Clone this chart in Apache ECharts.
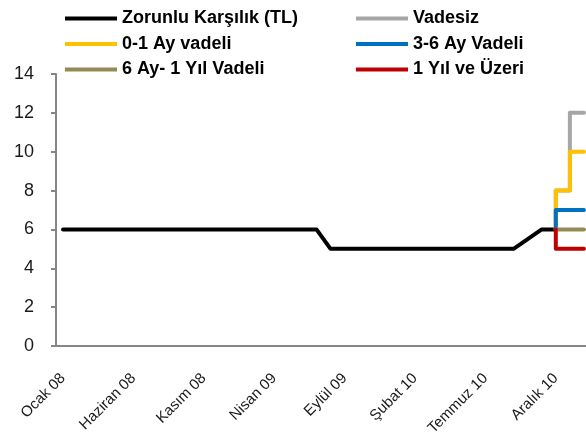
<!DOCTYPE html>
<html>
<head>
<meta charset="utf-8">
<script src="https://cdn.jsdelivr.net/npm/echarts@6/dist/echarts.min.js"></script>
<style>
  html, body { margin: 0; padding: 0; background: #fff; }
  #chart { width: 586px; height: 439px; }
</style>
</head>
<body>
<div id="chart"></div>
<script>
// months on the category axis, Ocak 08 .. Şubat 11
const categories = [
  'Ocak 08', 'Şubat 08', 'Mart 08', 'Nisan 08', 'Mayıs 08', 'Haziran 08', 'Temmuz 08', 'Ağustos 08', 'Eylül 08', 'Ekim 08', 'Kasım 08', 'Aralık 08',
  'Ocak 09', 'Şubat 09', 'Mart 09', 'Nisan 09', 'Mayıs 09', 'Haziran 09', 'Temmuz 09', 'Ağustos 09', 'Eylül 09', 'Ekim 09', 'Kasım 09', 'Aralık 09',
  'Ocak 10', 'Şubat 10', 'Mart 10', 'Nisan 10', 'Mayıs 10', 'Haziran 10', 'Temmuz 10', 'Ağustos 10', 'Eylül 10', 'Ekim 10', 'Kasım 10', 'Aralık 10',
  'Ocak 11', 'Şubat 11'
];

// Zorunlu Karşılık (TL), Ocak 08 .. Aralık 10
const zorunlu = [
  6, 6, 6, 6, 6, 6, 6, 6, 6, 6, 6, 6,
  6, 6, 6, 6, 6, 6, 6, 5, 5, 5, 5, 5,
  5, 5, 5, 5, 5, 5, 5, 5, 5, 5.5, 6, 6
];

// maturity based ratios: change months and the level from each of them on
const stepMonths = ['Aralık 10', 'Ocak 11'];
const lastMonth = 'Şubat 11';
const vadesiz = [8, 12];
const vade01 = [8, 10];
const vade36 = [7, 7];
const vade6_12 = [6, 6];
const vade12plus = [5, 5];

const yTicks = { min: 0, max: 14, interval: 2 };

function stepData(values) {
  // start from the TL ratio in the first change month, then hold each level
  const first = categories.indexOf(stepMonths[0]);
  const pts = [[first, zorunlu[first]]];
  stepMonths.forEach((m, i) => {
    const x = categories.indexOf(m);
    const next = i + 1 < stepMonths.length ? categories.indexOf(stepMonths[i + 1]) : categories.indexOf(lastMonth);
    pts.push([x, values[i]]);
    pts.push([next, values[i]]);
  });
  return pts;
}

const font = 'Liberation Sans';
const axisColor = '#868686';

function line(name, color, data, xAxisIndex) {
  return {
    name, type: 'line', data, xAxisIndex,
    symbol: 'none',
    lineStyle: { color, width: 4, cap: 'round', join: 'round' },
    itemStyle: { color },
    z: 2
  };
}

const legendText = { fontFamily: font, fontSize: 18, fontWeight: 'bold', color: '#000', lineHeight: 18 };

const chart = echarts.init(document.getElementById('chart'));
chart.setOption({
  animation: false,
  backgroundColor: '#fff',
  legend: [
    {
      orient: 'vertical', left: 65, top: 9.5, padding: 0,
      icon: 'rect', itemWidth: 52, itemHeight: 4, itemGap: 7.5,
      textStyle: legendText,
      data: ['Zorunlu Karşılık (TL)', '0-1 Ay vadeli', '6 Ay- 1 Yıl Vadeli']
    },
    {
      orient: 'vertical', left: 356, top: 9.5, padding: 0,
      icon: 'rect', itemWidth: 52, itemHeight: 4, itemGap: 7.5,
      textStyle: legendText,
      data: ['Vadesiz', '3-6 Ay Vadeli', '1 Yıl ve Üzeri']
    }
  ],
  grid: { left: 56, right: -5, top: 74, bottom: 93, outerBoundsMode: 'none' },
  xAxis: [
    {
      type: 'category',
      data: categories,
      boundaryGap: true,
      axisLine: { onZero: false, lineStyle: { color: axisColor, width: 2 } },
      axisTick: { interval: 4, length: 5, lineStyle: { color: axisColor, width: 2 } },
      axisLabel: { interval: 4, rotate: 45, margin: 30, fontFamily: font, fontSize: 15, color: '#1a1a1a' },
      splitLine: { show: false }
    },
    {
      type: 'value',
      show: false,
      min: -0.5,
      max: categories.length - 0.5
    }
  ],
  yAxis: {
    type: 'value',
    min: yTicks.min, max: yTicks.max, interval: yTicks.interval,
    axisLine: { show: true, onZero: false, lineStyle: { color: axisColor, width: 2 } },
    axisTick: { show: true, length: 5, lineStyle: { color: axisColor, width: 2 } },
    axisLabel: { margin: 22, fontFamily: font, fontSize: 18, color: '#1a1a1a' },
    splitLine: { show: false }
  },
  series: [
    line('Zorunlu Karşılık (TL)', '#000000', zorunlu, 0),
    line('Vadesiz', '#A6A6A6', stepData(vadesiz), 1),
    line('0-1 Ay vadeli', '#FFC000', stepData(vade01), 1),
    line('3-6 Ay Vadeli', '#0070C0', stepData(vade36), 1),
    line('6 Ay- 1 Yıl Vadeli', '#948A54', stepData(vade6_12), 1),
    line('1 Yıl ve Üzeri', '#C00000', stepData(vade12plus), 1)
  ]
});
</script>
</body>
</html>
